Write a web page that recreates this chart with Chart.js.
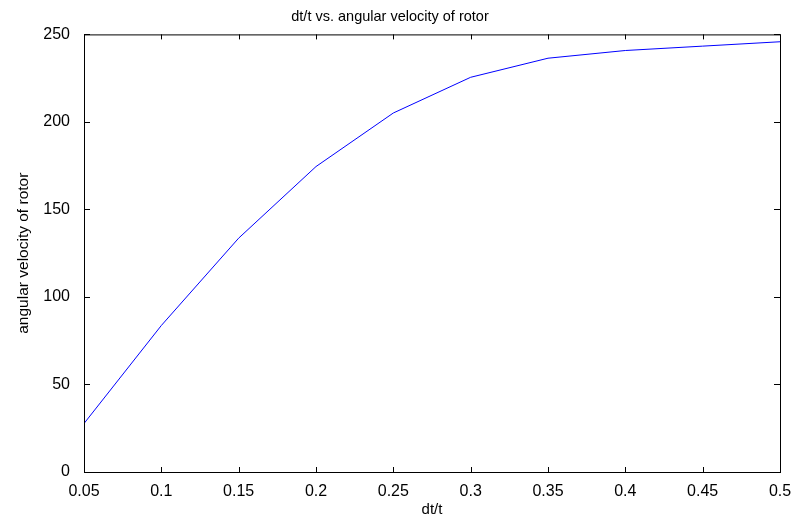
<!DOCTYPE html>
<html>
<head>
<meta charset="utf-8">
<script src="https://cdn.jsdelivr.net/npm/chart.js@4"></script>
<style>
  html, body { margin: 0; padding: 0; background: #fff; }
  #wrap { width: 796px; height: 519px; }
</style>
</head>
<body>
<div id="wrap"><canvas id="chart"></canvas></div>
<script>
const dtRatio = [0.05, 0.1, 0.15, 0.2, 0.25, 0.3, 0.35, 0.4, 0.45, 0.5]
const angularVelocity = [27.7, 83.7, 133.6, 174.5, 205.1, 225.5, 236.4, 240.8, 243.3, 245.8]
const xTicks = [0.05, 0.1, 0.15, 0.2, 0.25, 0.3, 0.35, 0.4, 0.45, 0.5]
const yTicks = [0, 50, 100, 150, 200, 250]

// matlab style box with inward ticks on all four sides
const boxTicks = {
  id: 'boxTicks',
  afterDraw(chart) {
    const { ctx, chartArea: a, scales } = chart
    ctx.save()
    ctx.strokeStyle = '#000'
    ctx.lineWidth = 1
    ctx.strokeRect(a.left + 0.5, a.top + 0.5, a.right - a.left, a.bottom - a.top)
    ctx.beginPath()
    xTicks.forEach(v => {
      const x = Math.round(scales.x.getPixelForValue(v)) + 0.5
      ctx.moveTo(x, a.bottom); ctx.lineTo(x, a.bottom - 5)
      ctx.moveTo(x, a.top); ctx.lineTo(x, a.top + 5)
    })
    yTicks.forEach(v => {
      const y = Math.round(scales.y.getPixelForValue(v)) + 0.5
      ctx.moveTo(a.left, y); ctx.lineTo(a.left + 6, y)
      ctx.moveTo(a.right, y); ctx.lineTo(a.right - 6, y)
    })
    ctx.stroke()
    ctx.restore()
  }
}

new Chart(document.getElementById('chart'), {
  type: 'line',
  data: {
    datasets: [
      {
        label: 'angular velocity of rotor',
        data: dtRatio.map((x, i) => ({ x: x, y: angularVelocity[i] })),
        borderColor: '#0000ff',
        borderWidth: 1,
        pointRadius: 0,
        tension: 0
      }
    ]
  },
  options: {
    responsive: true,
    maintainAspectRatio: false,
    animation: false,
    layout: { padding: { left: 0, right: 16, top: 0, bottom: 0 } },
    plugins: {
      legend: { display: false },
      tooltip: { enabled: false },
      title: {
        display: true,
        text: 'dt/t vs. angular velocity of rotor',
        color: '#000',
        font: { family: 'Liberation Sans', size: 14.5, weight: 'normal' },
        padding: { top: 8, bottom: 9 }
      }
    },
    scales: {
      x: {
        type: 'linear',
        min: 0.05,
        max: 0.5,
        afterBuildTicks: s => { s.ticks = xTicks.map(v => ({ value: v })) },
        afterFit: s => { s.height = 47 },
        grid: { display: false },
        border: { display: false },
        ticks: {
          color: '#000',
          padding: 2,
          maxRotation: 0,
          font: { family: 'Liberation Sans', size: 16 },
          callback: v => String(+v.toFixed(2))
        },
        title: {
          display: true,
          text: 'dt/t',
          color: '#000',
          padding: 0,
          font: { family: 'Liberation Sans', size: 15 }
        }
      },
      y: {
        min: 0,
        max: 250,
        afterBuildTicks: s => { s.ticks = yTicks.map(v => ({ value: v })) },
        afterFit: s => { s.width = 84 },
        grid: { display: false },
        border: { display: false },
        ticks: {
          color: '#000',
          padding: 6,
          font: { family: 'Liberation Sans', size: 16 }
        },
        title: {
          display: true,
          text: 'angular velocity of rotor',
          color: '#000',
          padding: { top: 14, bottom: 0 },
          font: { family: 'Liberation Sans', size: 15.5 }
        }
      }
    }
  },
  plugins: [boxTicks]
})
</script>
</body>
</html>
